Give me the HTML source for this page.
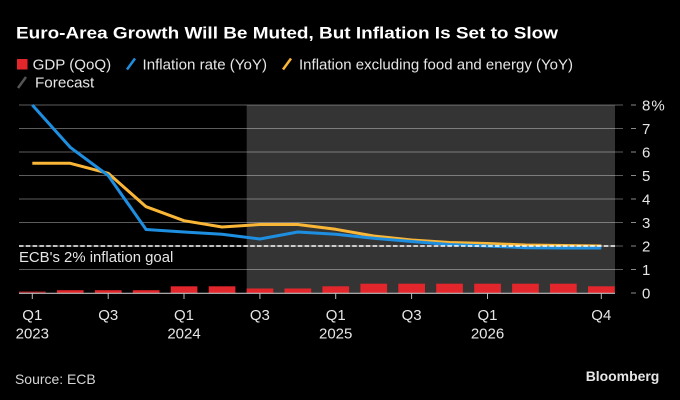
<!DOCTYPE html>
<html>
<head>
<meta charset="utf-8">
<style>
  html, body { margin:0; padding:0; background:#000; }
  body { width:680px; height:400px; overflow:hidden; }
  svg { display:block; }
  text { font-family: "Liberation Sans", "DejaVu Sans", sans-serif; }
</style>
</head>
<body>
<svg width="680" height="400" viewBox="0 0 680 400" xmlns="http://www.w3.org/2000/svg">
  <rect x="0" y="0" width="680" height="400" fill="#000"/>

  <!-- Title -->
  <text x="16" y="38.3" font-size="17" font-weight="bold" fill="#ffffff" textLength="542" lengthAdjust="spacingAndGlyphs">Euro-Area Growth Will Be Muted, But Inflation Is Set to Slow</text>

  <!-- Legend -->
  <rect x="17" y="59" width="10.5" height="10.5" fill="#e3262b"/>
  <text x="32.7" y="69.3" font-size="15" fill="#e6e6e6" textLength="78.5" lengthAdjust="spacingAndGlyphs">GDP (QoQ)</text>
  <line x1="127" y1="69.5" x2="135" y2="58.5" stroke="#1e8fe0" stroke-width="2.5"/>
  <text x="142.5" y="69.3" font-size="15" fill="#e6e6e6" textLength="124.5" lengthAdjust="spacingAndGlyphs">Inflation rate (YoY)</text>
  <line x1="283" y1="69.5" x2="291" y2="58.5" stroke="#f9b637" stroke-width="2.5"/>
  <text x="299" y="69.3" font-size="15" fill="#e6e6e6" textLength="274" lengthAdjust="spacingAndGlyphs">Inflation excluding food and energy (YoY)</text>
  <line x1="18" y1="88" x2="26" y2="77" stroke="#555" stroke-width="2.5"/>
  <text x="35" y="87.7" font-size="15" fill="#e6e6e6" textLength="59.3" lengthAdjust="spacingAndGlyphs">Forecast</text>

  <!-- Forecast shading -->
  <rect x="246.7" y="105" width="368.3" height="188" fill="#343434"/>

  <!-- Gridlines -->
  <g stroke="rgba(255,255,255,0.36)" stroke-width="1">
    <line x1="19" y1="105" x2="623" y2="105"/>
    <line x1="19" y1="128.5" x2="623" y2="128.5"/>
    <line x1="19" y1="152" x2="623" y2="152"/>
    <line x1="19" y1="175.5" x2="623" y2="175.5"/>
    <line x1="19" y1="199" x2="623" y2="199"/>
    <line x1="19" y1="222.5" x2="623" y2="222.5"/>
    <line x1="19" y1="246" x2="623" y2="246"/>
    <line x1="19" y1="269.5" x2="623" y2="269.5"/>
  </g>

  <!-- Y ticks -->
  <g stroke="#8a8a8a" stroke-width="1">
    <line x1="631" y1="105" x2="636" y2="105"/>
    <line x1="631" y1="128.5" x2="636" y2="128.5"/>
    <line x1="631" y1="152" x2="636" y2="152"/>
    <line x1="631" y1="175.5" x2="636" y2="175.5"/>
    <line x1="631" y1="199" x2="636" y2="199"/>
    <line x1="631" y1="222.5" x2="636" y2="222.5"/>
    <line x1="631" y1="246" x2="636" y2="246"/>
    <line x1="631" y1="269.5" x2="636" y2="269.5"/>
    <line x1="631" y1="293" x2="636" y2="293"/>
  </g>

  <!-- Y labels -->
  <g font-size="15" fill="#e6e6e6">
    <text x="642" y="110.5" letter-spacing="1">8%</text>
    <text x="642" y="134">7</text>
    <text x="642" y="157.5">6</text>
    <text x="642" y="181">5</text>
    <text x="642" y="204.5">4</text>
    <text x="642" y="228">3</text>
    <text x="642" y="251.5">2</text>
    <text x="642" y="275">1</text>
    <text x="642" y="298.5">0</text>
  </g>

  <!-- GDP bars -->
  <g fill="#e3262b">
    <rect x="19" y="291.5" width="26.7" height="1.5" fill="#a81d20"/>
    <rect x="56.9" y="290.2" width="26.7" height="2.8"/>
    <rect x="94.9" y="290.2" width="26.7" height="2.8"/>
    <rect x="132.8" y="290.2" width="26.7" height="2.8"/>
    <rect x="170.7" y="286.3" width="26.7" height="6.7"/>
    <rect x="208.7" y="286.3" width="26.7" height="6.7"/>
    <rect x="246.6" y="288.5" width="26.7" height="4.5"/>
    <rect x="284.5" y="288.5" width="26.7" height="4.5"/>
    <rect x="322.4" y="286.3" width="26.7" height="6.7"/>
    <rect x="360.4" y="283.7" width="26.7" height="9.3"/>
    <rect x="398.3" y="283.7" width="26.7" height="9.3"/>
    <rect x="436.2" y="283.7" width="26.7" height="9.3"/>
    <rect x="474.2" y="283.7" width="26.7" height="9.3"/>
    <rect x="512.1" y="283.7" width="26.7" height="9.3"/>
    <rect x="550" y="283.7" width="26.7" height="9.3"/>
    <rect x="588" y="286.3" width="26.7" height="6.7"/>
  </g>

  <!-- Axis baseline -->
  <line x1="19" y1="293.3" x2="615" y2="293.3" stroke="#bdbdbd" stroke-width="1.1"/>

  <!-- X ticks -->
  <g stroke="#bdbdbd" stroke-width="1">
    <line x1="32.3" y1="293" x2="32.3" y2="299"/>
    <line x1="108.2" y1="293" x2="108.2" y2="299"/>
    <line x1="184" y1="293" x2="184" y2="299"/>
    <line x1="259.9" y1="293" x2="259.9" y2="299"/>
    <line x1="335.7" y1="293" x2="335.7" y2="299"/>
    <line x1="411.6" y1="293" x2="411.6" y2="299"/>
    <line x1="487.5" y1="293" x2="487.5" y2="299"/>
    <line x1="601.3" y1="293" x2="601.3" y2="299"/>
  </g>

  <!-- Core inflation (yellow) -->
  <polyline fill="none" stroke="#f9b637" stroke-width="3" stroke-linejoin="round" stroke-linecap="butt"
    points="32.3,163.3 70.2,163.3 108.2,173.3 146.1,206.7 184,220.7 222,227 259.9,224.5 297.8,224.5 335.7,229.3 373.7,236 411.6,240 449.5,242.5 487.5,243.5 525.4,245 563.3,245.5 601.3,246"/>

  <!-- Headline inflation (blue) -->
  <polyline fill="none" stroke="#1e8fe0" stroke-width="3" stroke-linejoin="round" stroke-linecap="butt"
    points="32.3,105 70.2,147.3 108.2,175.5 146.1,229.5 184,232 222,234.3 259.9,239 297.8,232 335.7,234.3 373.7,238.3 411.6,241.5 449.5,244.5 487.5,246 525.4,247.7 563.3,248 601.3,248"/>

  <!-- 2% goal dashed line -->
  <line x1="19" y1="246" x2="615" y2="246" stroke="#ffffff" stroke-width="1.6" stroke-dasharray="4.5 2.3"/>
  <text x="19" y="262" font-size="15" fill="#e6e6e6" textLength="154.3" lengthAdjust="spacingAndGlyphs">ECB's 2% inflation goal</text>

  <!-- X labels -->
  <g font-size="15" fill="#e6e6e6" text-anchor="middle">
    <text x="32.3" y="320">Q1</text>
    <text x="32.3" y="338.5">2023</text>
    <text x="108.2" y="320">Q3</text>
    <text x="184" y="320">Q1</text>
    <text x="184" y="338.5">2024</text>
    <text x="259.9" y="320">Q3</text>
    <text x="335.7" y="320">Q1</text>
    <text x="335.7" y="338.5">2025</text>
    <text x="411.6" y="320">Q3</text>
    <text x="487.5" y="320">Q1</text>
    <text x="487.5" y="338.5">2026</text>
    <text x="601.3" y="320">Q4</text>
  </g>

  <!-- Footer -->
  <text x="15" y="384" font-size="14" fill="#d6d6d6" textLength="80.7" lengthAdjust="spacingAndGlyphs">Source: ECB</text>
  <text x="585.7" y="381" font-size="14" font-weight="bold" fill="#e6e6e6" textLength="73.6" lengthAdjust="spacingAndGlyphs">Bloomberg</text>
</svg>
</body>
</html>
